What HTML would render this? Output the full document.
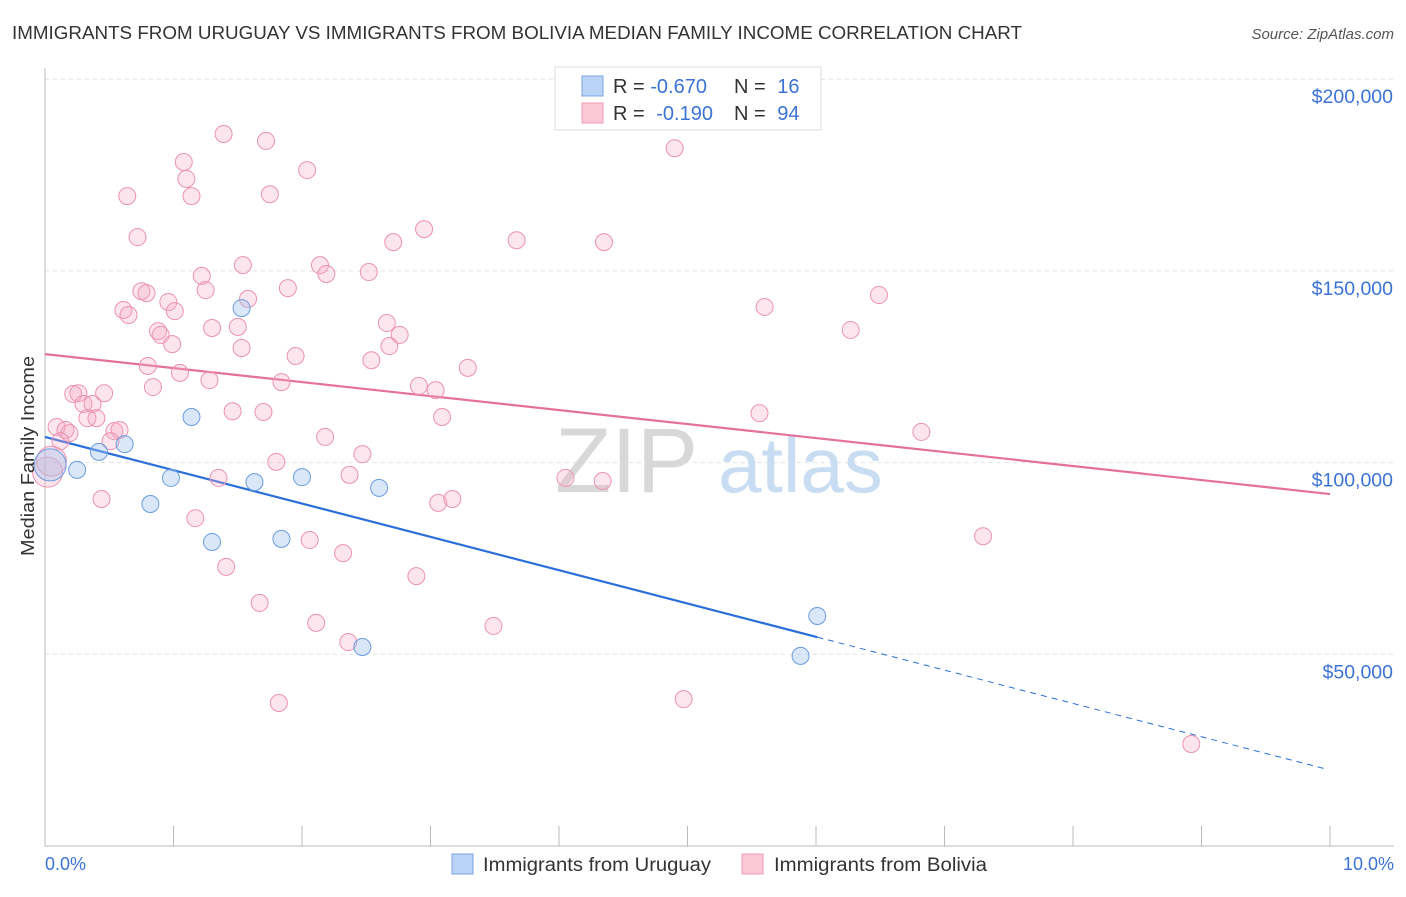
<!DOCTYPE html>
<html><head><meta charset="utf-8"><style>
body{margin:0;background:#fff;font-family:"Liberation Sans",sans-serif}
svg text{font-family:"Liberation Sans",sans-serif}
</style></head><body>
<svg width="1406" height="892" viewBox="0 0 1406 892" xmlns="http://www.w3.org/2000/svg">
<text x="12" y="39" font-size="18" fill="#333" textLength="1010" lengthAdjust="spacingAndGlyphs">IMMIGRANTS FROM URUGUAY VS IMMIGRANTS FROM BOLIVIA MEDIAN FAMILY INCOME CORRELATION CHART</text>
<text x="1394" y="39" font-size="15" fill="#555" font-style="italic" text-anchor="end">Source: ZipAtlas.com</text>
<g id="grid"></g>
<g>
<text x="555" y="492" font-size="92" fill="#d8d8d8" font-family="Liberation Serif">ZIP</text>
<text x="718" y="492" font-size="78" fill="#c8dcf2">atlas</text>
</g>
<line x1="45" y1="68" x2="45" y2="846" stroke="#bbb"/>
<line x1="45" y1="846" x2="1394" y2="846" stroke="#bbb"/>
<g id="ticks"></g>
<g id="lines"></g>
<g id="points"></g>
<text transform="translate(34,456) rotate(-90)" font-size="18.5" fill="#333" text-anchor="middle" textLength="200" lengthAdjust="spacingAndGlyphs">Median Family Income</text>
<text x="45" y="870" font-size="18" fill="#3b73d6">0.0%</text>
<text x="1394" y="870" font-size="18" fill="#3b73d6" text-anchor="end">10.0%</text>
<g>
<rect x="555" y="67" width="266" height="63" fill="#fff" stroke="#ddd"/>
<rect x="582" y="76" width="21" height="20" fill="#b8d3f5" stroke="#7aa6e0"/>
<rect x="582" y="103" width="21" height="20" fill="#fcc7d6" stroke="#ef9fb8"/>
<text x="613" y="93" font-size="20" fill="#333">R = <tspan fill="#3b73d6">-0.670</tspan></text>
<text x="734" y="93" font-size="20" fill="#333">N = <tspan fill="#3b73d6" dx="6">16</tspan></text>
<text x="613" y="120" font-size="20" fill="#333">R = <tspan fill="#3b73d6" dx="6">-0.190</tspan></text>
<text x="734" y="120" font-size="20" fill="#333">N = <tspan fill="#3b73d6" dx="6">94</tspan></text>
</g>
<g>
<rect x="452" y="854" width="21" height="20" fill="#b8d3f5" stroke="#7aa6e0"/>
<text x="483" y="871" font-size="19" fill="#333" textLength="228" lengthAdjust="spacingAndGlyphs">Immigrants from Uruguay</text>
<rect x="742" y="854" width="21" height="20" fill="#fcc7d6" stroke="#ef9fb8"/>
<text x="774" y="871" font-size="19" fill="#333" textLength="213" lengthAdjust="spacingAndGlyphs">Immigrants from Bolivia</text>
</g>
</svg>
<script>
const yTicks=[50000,100000,150000,200000];
const yTickLabels=["$50,000","$100,000","$150,000","$200,000"];
const xTicks=[0,1,2,3,4,5,6,7,8,9,10];
const uruguayX=[0.04,0.25,0.42,0.62,0.82,0.98,1.14,1.30,1.53,1.63,1.84,2.00,2.47,2.60,5.88,6.01];
const uruguayY=[99.4,98.1,102.8,104.8,89.2,96.0,111.9,79.3,140.3,94.9,80.1,96.2,51.9,93.4,49.6,60.0];
const uruguaySize=[17,8,8,8,8,8,8,8,8,8,8,8,8,8,8,8];
const boliviaX=[1.39,1.72,1.08,2.04,1.10,0.64,1.14,1.75,4.90,0.72,2.95,2.71,3.67,4.35,1.54,2.14,1.22,2.19,2.52,1.25,1.89,0.75,0.79,0.96,1.58,0.61,0.65,1.01,5.60,6.49,0.88,0.90,1.30,1.50,2.66,2.76,6.27,0.99,1.53,2.68,1.95,0.80,2.54,3.29,1.05,1.28,1.84,0.84,2.91,3.04,0.22,0.26,0.46,0.30,0.37,0.33,0.40,1.46,1.70,3.09,5.56,0.09,0.16,0.19,0.54,0.58,0.51,0.12,2.18,6.82,2.47,1.80,2.37,1.35,4.05,4.34,0.02,0.44,3.06,3.17,1.17,2.06,2.32,1.41,2.89,7.30,1.67,2.11,3.49,2.36,1.82,4.97,8.92,0.05];
const boliviaY=[185.7,183.9,178.4,176.3,174.0,169.5,169.5,170.0,182.0,158.8,160.9,157.5,158.0,157.5,151.5,151.5,148.7,149.2,149.7,145.0,145.5,144.7,144.2,141.9,142.7,139.8,138.5,139.5,140.6,143.7,134.3,133.3,135.1,135.4,136.4,133.3,134.6,130.9,129.9,130.4,127.8,125.2,126.7,124.7,123.4,121.5,121.0,119.7,120.0,118.9,117.9,118.1,118.1,115.3,115.3,111.6,111.6,113.4,113.2,111.9,112.9,109.3,108.5,107.7,108.2,108.5,105.6,105.6,106.7,108.0,102.2,100.2,96.8,96.0,96.0,95.2,97.5,90.5,89.5,90.5,85.5,79.8,76.4,72.8,70.4,80.8,63.4,58.2,57.4,53.2,37.3,38.3,26.6,100.4];
const uruguayTrend=[106.7,-8.69];
const boliviaTrend=[128.3,-3.65];
const NS="http://www.w3.org/2000/svg";
const xs=v=>45+v*128.5;
const ys=v=>846-v/50000*191.7;
const yk=v=>ys(v*1000);
function mk(t,a,p){const e=document.createElementNS(NS,t);for(const k in a)e.setAttribute(k,a[k]);p.appendChild(e);return e;}
const grid=document.getElementById('grid');
yTicks.forEach((t,i)=>{
 const l=mk('line',{x1:45,x2:1394,y1:ys(t),y2:ys(t),stroke:'#e2e2e2','stroke-dasharray':'4,4'},grid);
 
 
 const tx=mk('text',{x:1393,y:ys(t)+24,'font-size':19.5,fill:'#3b73d6','text-anchor':'end'},grid);
 tx.textContent=yTickLabels[i];
 
 
});
const tk=document.getElementById('ticks');
xTicks.forEach(t=>{
 const l=mk('line',{x1:xs(t),x2:xs(t),y1:826,y2:846,stroke:'#bbb'},tk);
 
 
});
const lg=document.getElementById('lines');
const ue=6.01;
let l1=mk('line',{x1:xs(0),y1:yk(uruguayTrend[0]),x2:xs(ue),y2:yk(uruguayTrend[0]+uruguayTrend[1]*ue),stroke:'#2a6fdb','stroke-width':2.2},lg);


let l2=mk('line',{x1:xs(ue),y1:yk(uruguayTrend[0]+uruguayTrend[1]*ue),x2:xs(9.96),y2:yk(uruguayTrend[0]+uruguayTrend[1]*9.96),stroke:'#2a6fdb','stroke-width':1,'stroke-dasharray':'6,5'},lg);


let l3=mk('line',{x1:xs(0),y1:yk(boliviaTrend[0]),x2:xs(10),y2:yk(boliviaTrend[0]+boliviaTrend[1]*10),stroke:'#e4719a','stroke-width':2.2},lg);


const pg=document.getElementById('points');
boliviaX.forEach((x,i)=>{
 const c=mk('circle',{cx:xs(x),cy:yk(boliviaY[i]),r:(i==76||i==93)?15:8.5,fill:'rgba(247,170,195,0.3)',stroke:'#eb93b0','stroke-width':1},pg);
 
 
});
uruguayX.forEach((x,i)=>{
 const c=mk('circle',{cx:xs(x),cy:yk(uruguayY[i]),r:uruguaySize[i]==17?16:8.5,fill:'rgba(160,195,240,0.4)',stroke:'#6a9de0','stroke-width':1},pg);
 
 
});
</script>
</body></html>
